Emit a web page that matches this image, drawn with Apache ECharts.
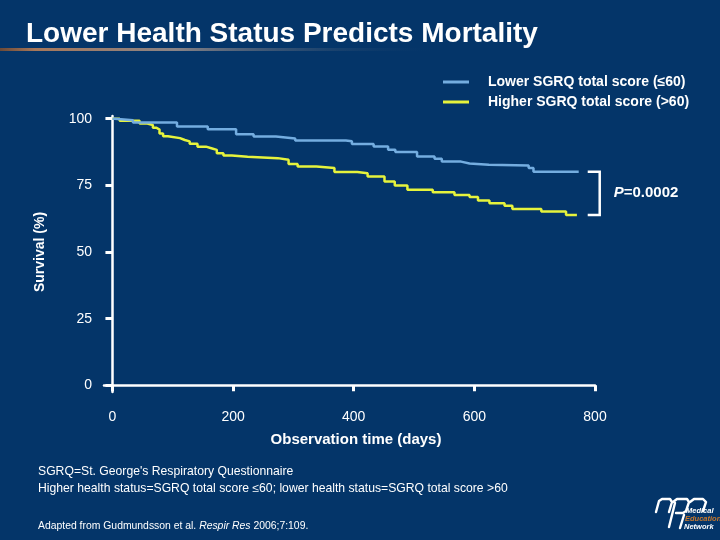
<!DOCTYPE html>
<html>
<head>
<meta charset="utf-8">
<script src="https://cdn.jsdelivr.net/npm/echarts@6/dist/echarts.min.js"></script>
<style>
html,body{margin:0;padding:0;background:#043569;}
#c{width:720px;height:540px;}
</style>
</head>
<body>
<div id="c"></div>
<script>
// ---- data ----
const seriesNames = ['Lower SGRQ total score (\u226460)', 'Higher SGRQ total score (>60)'];
const daysLow = [0,4,34,107,158,205,234,271,303,387,397,433,457,469,505,534,546,578,592,624,690,698,773];
const survLow = [100,99.4,98.6,97.1,96.0,94.2,93.3,92.6,91.8,91.5,90.5,89.6,88.3,87.5,85.8,85.0,83.9,83.2,82.7,82.4,81.5,80.1,80.1];
const daysHigh = [0,12,45,58,67,73,78,84,92,112,120,128,141,155,164,173,184,198,224,274,292,307,338,368,406,423,451,468,489,531,567,592,606,625,650,663,711,752,770];
const survHigh = [100,99.2,98.2,97.6,96.6,95.9,94.4,93.4,92.7,92.0,91.5,90.6,89.5,88.9,88.3,87.0,86.2,85.7,85.2,84.6,83.0,82.1,81.5,80.0,79.5,78.3,76.4,74.9,73.3,72.4,71.4,70.6,69.3,68.3,67.3,66.1,65.2,63.9,63.9];
const xTicks = [0,200,400,600,800];
const yTicks = [0,25,50,75,100];
const pValueText = '0.0002';

const FONT = '"Liberation Sans", Arial, sans-serif';
const BLUE = '#74ade0';
const YELLOW = '#e6f33c';
const chart = echarts.init(document.getElementById('c'), null, {renderer:'canvas'});

function pairs(xs, ys){ return xs.map((x,i)=>[x, ys[i]]); }

chart.setOption({
  backgroundColor: '#043569',
  animation: false,
  grid: {left: 104, right: 125, top: 116, bottom: 148, containLabel: false},
  legend: {
    orient: 'vertical', left: 438, top: 69, itemGap: 4,
    itemWidth: 26, itemHeight: 3, icon: 'rect',
    data: seriesNames,
    textStyle: {color:'#fff', fontFamily: FONT, fontWeight:'bold', fontSize: 14, lineHeight: 16, padding:[0,0,0,14]}
  },
  xAxis: {
    type: 'value', min: -14, max: 800,
    axisLine: {show:true, lineStyle:{color:'#fff', width:2.5}},
    axisTick: {show:true, customValues: xTicks, length: 6, lineStyle:{color:'#fff', width:3}},
    axisLabel: {customValues: xTicks, color:'#fff', fontFamily: FONT, fontSize: 14, margin: 18},
    splitLine: {show:false}
  },
  yAxis: {
    type: 'value', min: -2.5, max: 101,
    axisLine: {show:true, lineStyle:{color:'#fff', width:2.5}},
    axisTick: {show:true, customValues: yTicks, length: 7, lineStyle:{color:'#fff', width:3}},
    axisLabel: {customValues: yTicks, color:'#fff', fontFamily: FONT, fontSize: 14, margin: 12},
    splitLine: {show:false}
  },
  series: [
    {name: seriesNames[0], type:'line', step:'end', showSymbol:false, symbol:'none',
     data: pairs(daysLow, survLow), lineStyle:{color:BLUE, width:2.5}, itemStyle:{color:BLUE}, z:3},
    {name: seriesNames[1], type:'line', step:'end', showSymbol:false, symbol:'none',
     data: pairs(daysHigh, survHigh), lineStyle:{color:YELLOW, width:2.5}, itemStyle:{color:YELLOW}, z:2}
  ]
});

const pLow = chart.convertToPixel({gridIndex:0}, [daysLow[daysLow.length-1], survLow[survLow.length-1]]);
const pHigh = chart.convertToPixel({gridIndex:0}, [daysHigh[daysHigh.length-1], survHigh[survHigh.length-1]]);
const bx0 = Math.max(pLow[0], pHigh[0]) + 9;
const bx1 = bx0 + 12;

const logoStroke = {stroke:'#fff', lineWidth:2.4, fill:null, lineCap:'round', lineJoin:'round'};

chart.setOption({
  graphic: [
    {type:'rect', x:0, y:48, shape:{x:0,y:0,width:440,height:3}, silent:true,
     style:{fill:{type:'linear', x:0,y:0,x2:1,y2:0, colorStops:[
       {offset:0,color:'#6c4a38'},{offset:0.08,color:'#a8785a'},{offset:0.4,color:'#8a8486'},{offset:1,color:'rgba(4,53,105,0)'}]}}},
    {type:'text', x:26, y:34, style:{text:'Lower Health Status Predicts Mortality', fill:'#fff', font:'bold 28px ' + FONT, verticalAlign:'middle'}},
    {type:'text', x:40, y:252, rotation:Math.PI/2, style:{text:'Survival (%)', fill:'#fff', font:'bold 14px ' + FONT, align:'center', verticalAlign:'middle'}},
    {type:'text', x:356, y:440, style:{text:'Observation time (days)', fill:'#fff', font:'bold 15px ' + FONT, align:'center', verticalAlign:'middle'}},
    {type:'polyline', shape:{points:[[bx0,pLow[1]],[bx1,pLow[1]],[bx1,pHigh[1]],[bx0,pHigh[1]]]}, style:{stroke:'#fff', lineWidth:2.5, fill:null}},
    {type:'text', x:bx1+14, y:(pLow[1]+pHigh[1])/2, style:{
      text:'{i|P}{n|=' + pValueText + '}', verticalAlign:'middle',
      rich:{i:{fill:'#fff', font:'italic bold 15px ' + FONT}, n:{fill:'#fff', font:'bold 15px ' + FONT}}}},
    {type:'text', x:38, y:472, style:{text:"SGRQ=St. George's Respiratory Questionnaire", fill:'#fff', font:'12.2px ' + FONT, verticalAlign:'middle'}},
    {type:'text', x:38, y:489, style:{text:'Higher health status=SGRQ total score \u226460; lower health status=SGRQ total score >60', fill:'#fff', font:'12.2px ' + FONT, verticalAlign:'middle'}},
    {type:'text', x:38, y:526, style:{
      text:'{n|Adapted from Gudmundsson et al. }{i|Respir Res}{n| 2006;7:109.}', verticalAlign:'middle',
      rich:{n:{fill:'#fff', font:'10.4px ' + FONT}, i:{fill:'#fff', font:'italic 10.4px ' + FONT}}}},
    // logo
    {type:'polyline', silent:true, shape:{points:[[656,512],[659,501],[662,499],[670,499],[672,502],[669,512]]}, style:logoStroke},
    {type:'polyline', silent:true, shape:{points:[[673,502],[677,499],[687,499],[689,502],[686,511],[683,513],[676,513]]}, style:logoStroke},
    {type:'polyline', silent:true, shape:{points:[[675,503],[669,527]]}, style:logoStroke},
    {type:'polyline', silent:true, shape:{points:[[690,502],[694,499],[703,499],[706,502],[703,511]]}, style:logoStroke},
    {type:'polyline', silent:true, shape:{points:[[684,515],[680,528]]}, style:logoStroke},
    {type:'text', x:686, y:507, style:{text:'Medical', fill:'#fff', font:'italic bold 7.5px ' + FONT}},
    {type:'text', x:685, y:515, style:{text:'Education', fill:'#c8782c', font:'italic bold 7.5px ' + FONT}},
    {type:'text', x:684, y:523, style:{text:'Network', fill:'#fff', font:'italic bold 7.5px ' + FONT}}
  ]
});
</script>
</body>
</html>
